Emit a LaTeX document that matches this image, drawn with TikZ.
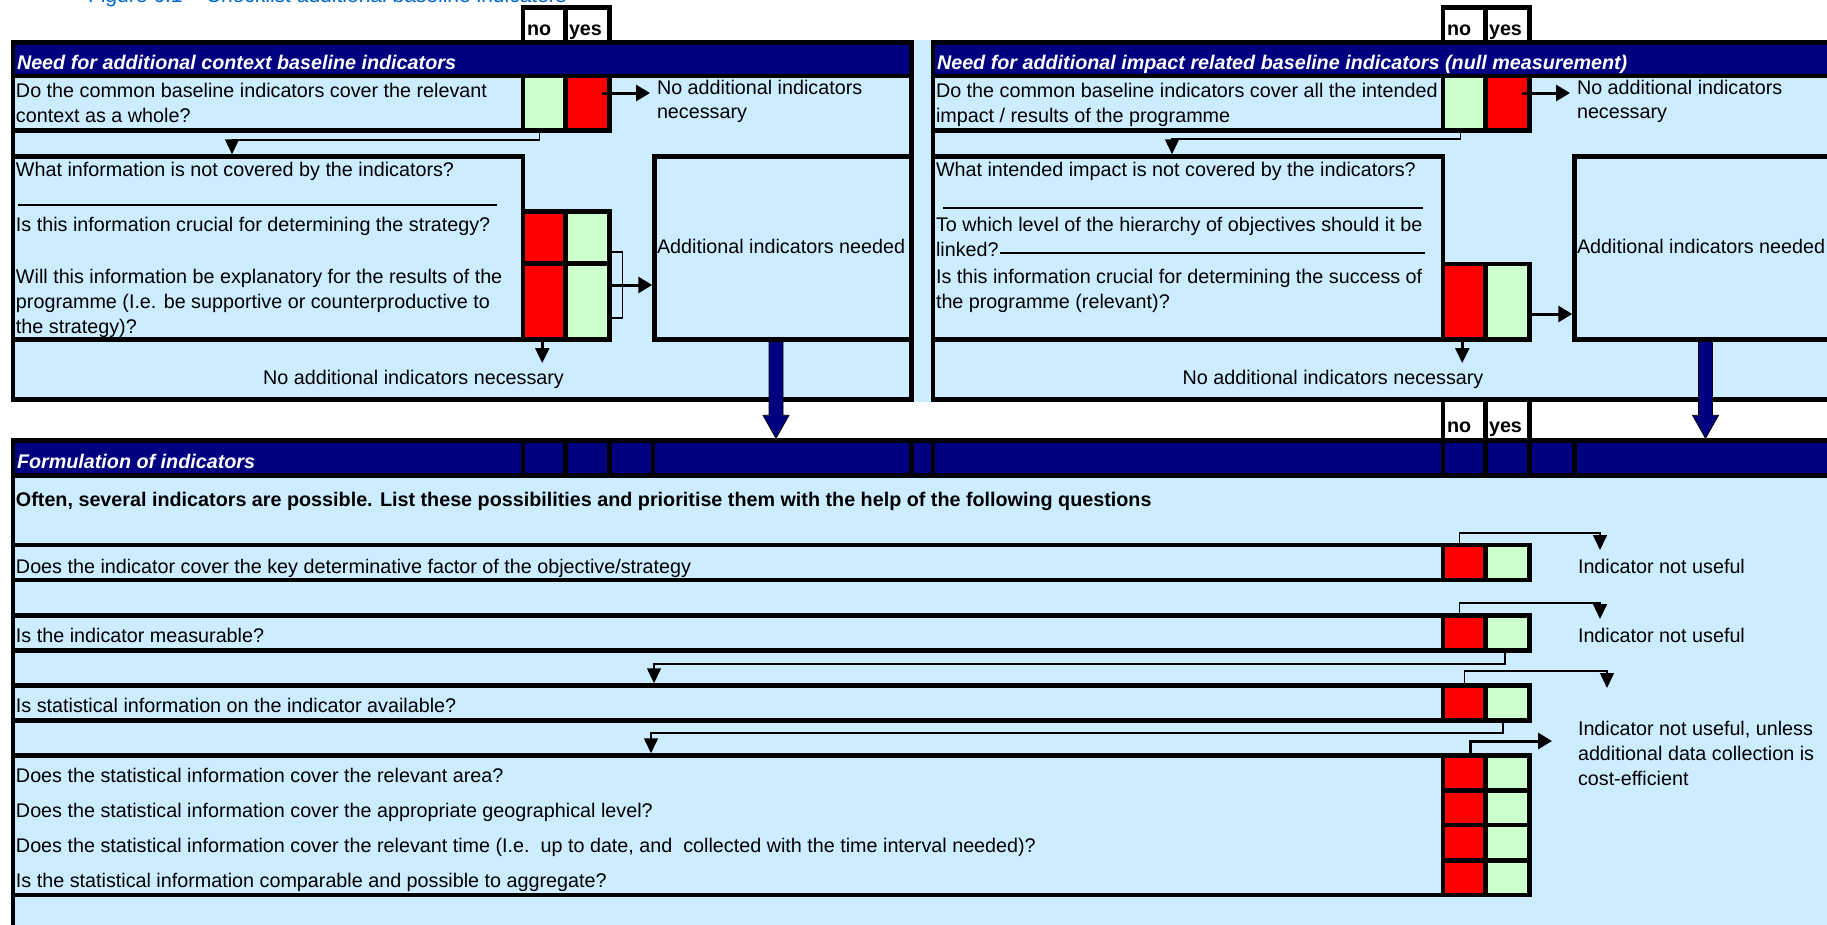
\documentclass[tikz,border=0pt]{standalone}
\usepackage{fontspec}
\setmainfont{Liberation Sans}
\usetikzlibrary{arrows.meta,calc}
\definecolor{paleblue}{RGB}{204,236,255}
\definecolor{hdrnavy}{RGB}{0,0,128}
\definecolor{nored}{RGB}{255,0,0}
\definecolor{yesgreen}{RGB}{204,255,204}
\definecolor{capblue}{RGB}{0,102,204}
\newcommand{\formsize}{\fontsize{19.75}{25}\selectfont}
\newcommand{\capsize}{\fontsize{21}{25}\selectfont}
\begin{document}
\begin{tikzpicture}[x=1pt,y=-1pt,
  frame/.style={line width=4.5pt,line cap=rect},
  rule/.style={line width=1.2pt},
  link/.style={line width=1.5pt,-{Triangle[length=15pt,width=14pt]}},
  flow/.style={line width=3pt,-{Triangle[length=14pt,width=16pt]}},
  drop/.style={line width=2.5pt,-{Triangle[length=15pt,width=14pt]}},
  bigarrow/.style={fill=hdrnavy,draw=black,line width=0.8pt},
  txt/.style={anchor=base west,inner sep=0pt,outer sep=0pt,font=\formsize},
  ctxt/.style={anchor=base,inner sep=0pt,outer sep=0pt,font=\formsize},
  hdr/.style={txt,text=white,font=\formsize\bfseries\itshape},
  bold/.style={txt,font=\formsize\bfseries},
  cell/.style={anchor=north west,inner sep=0pt,outer sep=0pt},
  nocol/.style={minimum width=42.5pt},
  yescol/.style={minimum width=44pt},
  isno/.style={fill=nored},
  isyes/.style={fill=yesgreen}]
\useasboundingbox (0,0) rectangle (1827,924);
\clip (0,0) rectangle (1827,924);

% ---------- backgrounds ----------
\fill[paleblue] (10.75,40.25) rectangle (1830,401.75);
\fill[paleblue] (10.75,438.25) rectangle (1830,930);
\fill[hdrnavy] (13,42.5) rectangle (911.5,76);
\fill[hdrnavy] (933,42.5) rectangle (1831.5,76);
\fill[hdrnavy] (13,440.5) rectangle (1830,475.5);

% ---------- answer cells ----------
% context panel
\node[cell,nocol,isyes,minimum height=54.5pt] (Lq1n) at (523,76) {};
\node[cell,yescol,isno,minimum height=54.5pt] (Lq1y) at (565.5,76) {};
\node[cell,nocol,isno,minimum height=52pt] (Lq2n) at (523,211.5) {};
\node[cell,yescol,isyes,minimum height=52pt] (Lq2y) at (565.5,211.5) {};
\node[cell,nocol,isno,minimum height=76pt] (Lq3n) at (523,263.5) {};
\node[cell,yescol,isyes,minimum height=76pt] (Lq3y) at (565.5,263.5) {};
% impact panel
\node[cell,nocol,isyes,minimum height=54.5pt] (Rq1n) at (1443,76) {};
\node[cell,yescol,isno,minimum height=54.5pt] (Rq1y) at (1485.5,76) {};
\node[cell,nocol,isno,minimum height=75.5pt] (Rq2n) at (1443,264) {};
\node[cell,yescol,isyes,minimum height=75.5pt] (Rq2y) at (1485.5,264) {};
% formulation rows
\node[cell,nocol,isno,minimum height=35pt] (F1n) at (1443,545) {};
\node[cell,yescol,isyes,minimum height=35pt] (F1y) at (1485.5,545) {};
\node[cell,nocol,isno,minimum height=35pt] (F2n) at (1443,615.5) {};
\node[cell,yescol,isyes,minimum height=35pt] (F2y) at (1485.5,615.5) {};
\node[cell,nocol,isno,minimum height=35pt] (F3n) at (1443,685.5) {};
\node[cell,yescol,isyes,minimum height=35pt] (F3y) at (1485.5,685.5) {};
\node[cell,nocol,isno,minimum height=35pt] (F4n) at (1443,755.5) {};
\node[cell,yescol,isyes,minimum height=35pt] (F4y) at (1485.5,755.5) {};
\node[cell,nocol,isno,minimum height=34.5pt] (F5n) at (1443,790.5) {};
\node[cell,yescol,isyes,minimum height=34.5pt] (F5y) at (1485.5,790.5) {};
\node[cell,nocol,isno,minimum height=35.5pt] (F6n) at (1443,825) {};
\node[cell,yescol,isyes,minimum height=35.5pt] (F6y) at (1485.5,825) {};
\node[cell,nocol,isno,minimum height=34.5pt] (F7n) at (1443,860.5) {};
\node[cell,yescol,isyes,minimum height=34.5pt] (F7y) at (1485.5,860.5) {};

% ---------- frames: context panel ----------
\draw[frame] (13,42.5) rectangle (911.5,399.5);
\draw[frame] (13,76) -- (911.5,76);
\draw[frame] (13,130.5) -- (609.5,130.5) (609.5,76) -- (609.5,130.5)
  (523,76) -- (523,130.5) (565.5,76) -- (565.5,130.5);
\draw[frame] (13,156.5) rectangle (523,339.5);
\draw[frame] (523,211.5) rectangle (609.5,339.5) (523,263.5) -- (609.5,263.5)
  (565.5,211.5) -- (565.5,339.5);
\draw[frame] (654.5,156.5) rectangle (911.5,339.5);
\draw[frame] (523,42.5) -- (523,7.5) -- (609.5,7.5) -- (609.5,42.5)
  (565.5,7.5) -- (565.5,42.5);
\draw[rule] (18,205) -- (497,205);

% ---------- frames: impact panel ----------
\draw[frame] (933,42.5) rectangle (1831.5,399.5);
\draw[frame] (933,76) -- (1831.5,76);
\draw[frame] (933,130.5) -- (1529.5,130.5) (1529.5,76) -- (1529.5,130.5)
  (1443,76) -- (1443,130.5) (1485.5,76) -- (1485.5,130.5);
\draw[frame] (933,156.5) rectangle (1443,339.5);
\draw[frame] (1443,264) rectangle (1529.5,339.5) (1485.5,264) -- (1485.5,339.5);
\draw[frame] (1574.5,156.5) rectangle (1831.5,339.5);
\draw[frame] (1443,42.5) -- (1443,7.5) -- (1529.5,7.5) -- (1529.5,42.5)
  (1485.5,7.5) -- (1485.5,42.5);
\draw[frame] (1443,399.5) -- (1443,440.5) (1485.5,399.5) -- (1485.5,440.5)
  (1529.5,399.5) -- (1529.5,440.5);
\draw[rule] (943,208) -- (1423,208);
\draw[rule] (1000,253) -- (1425,253);

% ---------- frames: formulation ----------
\draw[frame] (13,930) -- (13,440.5) -- (1830,440.5);
\draw[frame] (13,475.5) -- (1830,475.5);
\foreach \x in {523,565.5,609.5,653,911.5,933,1443,1485.5,1529.5,1574.5}
  \draw[frame] (\x,440.5) -- (\x,475.5);
\foreach \t/\b in {545/580,615.5/650.5,685.5/720.5}
  \draw[frame] (13,\t) rectangle (1529.5,\b) (1443,\t) -- (1443,\b)
    (1485.5,\t) -- (1485.5,\b);
\draw[frame] (13,755.5) rectangle (1529.5,895) (1443,755.5) -- (1443,895)
  (1485.5,755.5) -- (1485.5,895);
\foreach \y in {790.5,825,860.5}
  \draw[frame] (1443,\y) -- (1529.5,\y);

% ---------- texts ----------
\node[txt,font=\capsize,text=capblue] (caption) at (88,2.5) {Figure 6.1 – Checklist additional baseline indicators};
\node[bold] (Lno) at (527,35) {no};
\node[bold] (Lyes) at (569,35) {yes};
\node[bold] (Rno) at (1447,35) {no};
\node[bold] (Ryes) at (1489,35) {yes};
\node[bold] (Fno) at (1447,432) {no};
\node[bold] (Fyes) at (1489,432) {yes};

\node[hdr] (Lhead) at (17,69) {Need for additional context baseline indicators};
\node[txt] (Lq1a) at (16,97.3) {Do the common baseline indicators cover the relevant};
\node[txt] (Lq1b) at (16,122.3) {context as a whole?};
\node[txt] (Lstop1) at (657,94.3) {No additional indicators};
\node[txt] (Lstop2) at (657,118.5) {necessary};
\node[txt] (Lq2) at (16,176.7) {What information is not covered by the indicators?};
\node[txt] (Lq3) at (16,231) {Is this information crucial for determining the strategy?};
\node[txt] (Lq4a) at (16,283.3) {Will this information be explanatory for the results of the};
\node[txt] (Lq4b) at (16,308.3) {programme (I.e. be supportive or counterproductive to};
\node[txt] (Lq4c) at (16,333.3) {the strategy)?};
\node[txt] (Lneed) at (657,253.3) {Additional indicators needed};
\node[ctxt] (Lnone) at (413.5,384) {No additional indicators necessary};

\node[hdr] (Rhead) at (937,69) {Need for additional impact related baseline indicators (null measurement)};
\node[txt] (Rq1a) at (936,97.3) {Do the common baseline indicators cover all the intended};
\node[txt] (Rq1b) at (936,122.3) {impact / results of the programme};
\node[txt] (Rstop1) at (1577,94.3) {No additional indicators};
\node[txt] (Rstop2) at (1577,118.5) {necessary};
\node[txt] (Rq2) at (936,176.7) {What intended impact is not covered by the indicators?};
\node[txt] (Rq3a) at (936,231) {To which level of the hierarchy of objectives should it be};
\node[txt] (Rq3b) at (936,256) {linked?};
\node[txt] (Rq4a) at (936,283.3) {Is this information crucial for determining the success of};
\node[txt] (Rq4b) at (936,308.3) {the programme (relevant)?};
\node[txt] (Rneed) at (1577,253.3) {Additional indicators needed};
\node[ctxt] (Rnone) at (1333,384) {No additional indicators necessary};

\node[hdr] (Fhead) at (17,468.3) {Formulation of indicators};
\node[bold] (Fintro) at (16,506) {Often, several indicators are possible. List these possibilities and prioritise them with the help of the following questions};
\node[txt] (Fq1) at (16,573.3) {Does the indicator cover the key determinative factor of the objective/strategy};
\node[txt] (Fq2) at (16,642.3) {Is the indicator measurable?};
\node[txt] (Fq3) at (16,712.3) {Is statistical information on the indicator available?};
\node[txt] (Fq4) at (16,782.3) {Does the statistical information cover the relevant area?};
\node[txt] (Fq5) at (16,817.3) {Does the statistical information cover the appropriate geographical level?};
\node[txt] (Fq6) at (16,852.3) {Does the statistical information cover the relevant time (I.e.\ \ up to date, and\ \ collected with the time interval needed)?};
\node[txt] (Fq7) at (16,887.3) {Is the statistical information comparable and possible to aggregate?};
\node[txt] (Fout1) at (1578,573.3) {Indicator not useful};
\node[txt] (Fout2) at (1578,642.3) {Indicator not useful};
\node[txt] (Fout3a) at (1578,735) {Indicator not useful, unless};
\node[txt] (Fout3b) at (1578,760) {additional data collection is};
\node[txt] (Fout3c) at (1578,785) {cost-efficient};

% ---------- connector end points ----------
\coordinate (LstopIn) at (650,93);
\coordinate (LboxIn) at (232,154.25);
\coordinate (LneedIn) at (652.25,285);
\coordinate (RstopIn) at (1570,93);
\coordinate (RboxIn) at (1172,154.25);
\coordinate (RneedIn) at (1572.25,314);
\coordinate (Fout1In) at (1600,550);
\coordinate (Fout2In) at (1600,619);
\coordinate (Fout3In) at (1607,688);
\coordinate (Fout4In) at (1552,741);
\coordinate (Fq3In) at (654,683.25);
\coordinate (Fq4In) at (651,753.25);

% ---------- connectors: context panel ----------
\draw[flow,line cap=round] ($(Lq1y.north east)+(-6.5,17)$) -- (LstopIn);
\draw[link] ($(Lq1n.south)+(-5,0)$) -- ++(0,9.5) -| (LboxIn);
\draw[rule] ($(Lq2y.north east)+(2.25,40.5)$) -- ++(11,0) -- ++(0,66) -- ++(-11,0);
\draw[flow] ($(Lq3y.north east)+(2.25,21.5)$) -- (LneedIn);
\draw[drop] ($(Lq3n.south)+(-2,0)$) -- ++(0,23.5);

% ---------- connectors: impact panel ----------
\draw[flow,line cap=round] ($(Rq1y.north east)+(-6.5,17)$) -- (RstopIn);
\draw[link] ($(Rq1n.south)+(-4,0)$) -- ++(0,8.5) -| (RboxIn);
\draw[flow] ($(Rq2y.north east)+(2.25,50)$) -- (RneedIn);
\draw[drop] ($(Rq2n.south)+(-2,0)$) -- ++(0,23.5);

% ---------- connectors: formulation ----------
\draw[link] ($(F1n.north)+(-5,0)$) -- ++(0,-12) -| (Fout1In);
\draw[link] ($(F2n.north)+(-5,0)$) -- ++(0,-12.5) -| (Fout2In);
\draw[link] ($(F3n.north)+(0,0)$) -- ++(0,-14.5) -| (Fout3In);
\draw[flow] ($(F4n.north)+(6,0)$) -- ++(0,-14.5) -- (Fout4In);
\draw[link] ($(F2y.south)+(-2.5,0)$) -- ++(0,13.5) -| (Fq3In);
\draw[link] ($(F3y.south)+(-4.5,0)$) -- ++(0,12.5) -| (Fq4In);

% ---------- transfer arrows into the formulation block ----------
\coordinate (LbigA) at (776,341.75);
\coordinate (LbigB) at (776,438.25);
\coordinate (RbigA) at (1705.5,341.75);
\coordinate (RbigB) at (1705.5,438.25);
\foreach \a/\b in {LbigA/LbigB,RbigA/RbigB}
  \draw[bigarrow] ($(\a)+(-7,0)$) -- ($(\b)+(-7,-23)$) -- ($(\b)+(-13,-23)$)
    -- (\b) -- ($(\b)+(13,-23)$) -- ($(\b)+(7,-23)$) -- ($(\a)+(7,0)$) -- cycle;
\end{tikzpicture}
\end{document}
